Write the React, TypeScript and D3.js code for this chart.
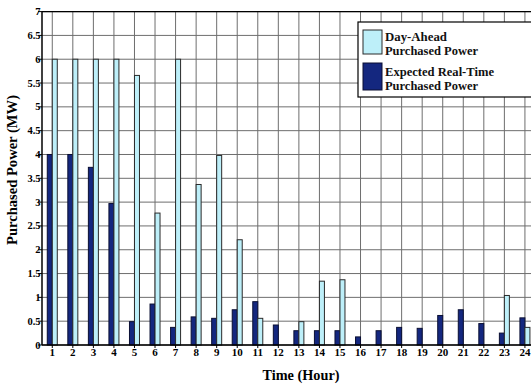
import React from "react";
import * as d3 from "d3";

const hours = ["1","2","3","4","5","6","7","8","9","10","11","12","13","14","15","16","17","18","19","20","21","22","23","24"];
const dayAhead = [6, 6, 6, 6, 5.66, 2.77, 6, 3.37, 3.98, 2.21, 0.56, 0, 0.49, 1.34, 1.37, 0, 0, 0, 0, 0, 0, 0, 1.04, 0.37];
const realTime = [4, 4, 3.73, 2.97, 0.49, 0.86, 0.37, 0.59, 0.56, 0.74, 0.91, 0.42, 0.3, 0.3, 0.3, 0.17, 0.3, 0.37, 0.35, 0.62, 0.74, 0.45, 0.25, 0.57];
const yTicks = [0, 0.5, 1, 1.5, 2, 2.5, 3, 3.5, 4, 4.5, 5, 5.5, 6, 6.5, 7];
const legendLabels = [["Day-Ahead", "Purchased Power"], ["Expected Real-Time", "Purchased Power"]];

const W = 531, H = 386;
const left = 42, top = 11.6, bottom = 345, step = 20.55;
const font = "'Liberation Serif', 'Times New Roman', Times, serif";

export default function App() {
  const x = d3.scaleBand<string>().domain(hours).range([left, left + step * hours.length]).padding(0);
  const y = d3.scaleLinear().domain([0, 7]).range([bottom, top]);
  const bw = 5;
  const right = W + 5;
  const cx = (h: string) => (x(h) as number) + x.bandwidth() / 2;
  const legendWidths = [[62, 93], [109, 93]];

  return (
    <svg width={W} height={H} style={{ position: "absolute", left: 0, top: 0, background: "#fff" }}>
      <g>
        {yTicks.map((t) => (
          <line key={"gy" + t} x1={left} x2={right} y1={y(t)} y2={y(t)} stroke="#6e6e6e" strokeWidth={1} />
        ))}
        {hours.map((h) => (
          <line key={"gx" + h} x1={cx(h)} x2={cx(h)} y1={top} y2={bottom} stroke="#6e6e6e" strokeWidth={1} />
        ))}
      </g>
      <g>
        {hours.map((h, i) => (
          <g key={"b" + h}>
            {realTime[i] > 0 && (
              <rect x={cx(h) - bw} y={y(realTime[i])} width={bw} height={bottom - y(realTime[i])}
                fill="#14277f" stroke="#0a0f33" strokeWidth={1} />
            )}
            {dayAhead[i] > 0 && (
              <rect x={cx(h)} y={y(dayAhead[i])} width={bw} height={bottom - y(dayAhead[i])}
                fill="#bdeff9" stroke="#2a2a2a" strokeWidth={1} />
            )}
          </g>
        ))}
      </g>
      <line x1={left} x2={left} y1={top} y2={bottom} stroke="#000" strokeWidth={1.5} />
      <line x1={left} x2={right} y1={bottom} y2={bottom} stroke="#000" strokeWidth={1.5} />
      <line x1={left} x2={right} y1={top} y2={top} stroke="#000" strokeWidth={1.2} />
      {yTicks.map((t) => (
        <g key={"yt" + t}>
          <line x1={left - 4} x2={left} y1={y(t)} y2={y(t)} stroke="#000" />
          <text x={left - 1.5} y={y(t) + 3.5} textAnchor="end" fontFamily={font} fontWeight="bold" fontSize={10.5}>{t}</text>
        </g>
      ))}
      {hours.map((h) => (
        <g key={"xt" + h}>
          <line x1={cx(h)} x2={cx(h)} y1={bottom} y2={bottom + 3} stroke="#000" />
          <text x={cx(h)} y={bottom + 10.5} textAnchor="middle" fontFamily={font} fontWeight="bold" fontSize={11}>{h}</text>
        </g>
      ))}
      <text x={301} y={380} textAnchor="middle" fontFamily={font} fontWeight="bold" fontSize={14}
        textLength={77} lengthAdjust="spacingAndGlyphs">Time (Hour)</text>
      <text transform={`translate(17,170) rotate(-90)`} textAnchor="middle" fontFamily={font} fontWeight="bold" fontSize={14}
        textLength={150} lengthAdjust="spacingAndGlyphs">Purchased Power (MW)</text>
      <g>
        <rect x={358} y={22} width={W} height={75} fill="#fff" stroke="#000" strokeWidth={1.2} />
        <rect x={363} y={30} width={19} height={24} fill="#bdeff9" stroke="#2a2a2a" strokeWidth={1} />
        <rect x={363} y={63} width={19} height={27} fill="#14277f" stroke="#0a0f33" strokeWidth={1} />
        {legendLabels.map((lines, i) => (
          <g key={"lg" + i}>
            <text x={385} y={41 + i * 35} fontFamily={font} fontWeight="bold" fontSize={12} fill="#111"
              textLength={legendWidths[i][0]} lengthAdjust="spacingAndGlyphs">{lines[0]}</text>
            <text x={385} y={55 + i * 35} fontFamily={font} fontWeight="bold" fontSize={12} fill="#111"
              textLength={legendWidths[i][1]} lengthAdjust="spacingAndGlyphs">{lines[1]}</text>
          </g>
        ))}
      </g>
    </svg>
  );
}
